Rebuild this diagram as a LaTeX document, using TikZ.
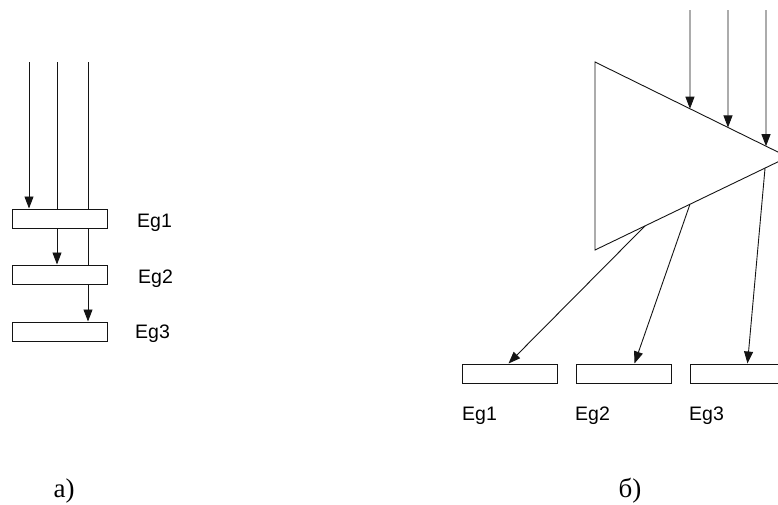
\documentclass[tikz,border=0pt]{standalone}
\usepackage{fontspec}
\setmainfont{Liberation Serif}
\newfontfamily\egfont{Liberation Sans}
\usetikzlibrary{arrows.meta,calc}
\definecolor{lineGrey}{RGB}{20,20,20}

\begin{document}
\begin{tikzpicture}[x=1pt,y=-1pt,
    bar/.style={draw=lineGrey, line width=1pt, fill=white, inner sep=0pt,
                minimum width=95pt, minimum height=19pt},
    wire/.style={lineGrey, line width=0.9pt},
    feed/.style={wire, -{Triangle[length=12pt,width=9pt]}},
    eg/.style={font=\egfont\fontsize{19.5}{20}\selectfont, inner sep=0pt, anchor=base west},
    tag/.style={font=\fontsize{27}{28}\selectfont, inner sep=0pt, anchor=base}]
  \useasboundingbox (0,0) rectangle (778,504);
  \clip (0,0) rectangle (778,504);

  % a) three levels in a row
  \coordinate (ina) at (29,62);
  \coordinate (inb) at (57,62);
  \coordinate (inc) at (88,62);
  \node[bar] (ea1) at (59.5,218.5) {};
  \node[bar] (ea2) at (59.5,274.5) {};
  \node[bar] (ea3) at (59.5,331.5) {};
  \draw[feed] (ina) -- (ina |- ea1.north);
  \draw[wire] (inb) -- (inb |- ea1.north);
  \draw[feed] (inb |- ea1.south) -- (inb |- ea2.north);
  \draw[wire] (inc) -- (inc |- ea1.north);
  \draw[wire] (inc |- ea1.south) -- (inc |- ea2.north);
  \draw[feed] (inc |- ea2.south) -- (inc |- ea3.north);
  \node[eg] (la1) at (137,227) {Eg1};
  \node[eg] (la2) at (138,283) {Eg2};
  \node[eg] (la3) at (135,338) {Eg3};
  \node[tag] (capa) at (64,497) {а)};

  % b) the prism splits the beam
  \coordinate (tl) at (595,62);
  \coordinate (bl) at (595,250);
  \coordinate (tip) at (788,157);
  \draw[wire] (tl) -- (tip) -- (bl) -- cycle;
  \coordinate (ra) at (690,10);
  \coordinate (rb) at (728,10);
  \coordinate (rc) at (766,10);
  \draw[feed] (ra) -- ($(tl)!0.492!(tip)$);
  \draw[feed] (rb) -- ($(tl)!0.689!(tip)$);
  \draw[feed] (rc) -- ($(tl)!0.886!(tip)$);
  \node[bar] (eb1) at (509.5,373.5) {};
  \node[bar] (eb2) at (623.5,373.5) {};
  \node[bar] (eb3) at (737.5,373.5) {};
  \draw[feed] ($(bl)!0.259!(tip)$) -- ([xshift=-1pt]eb1.north);
  \draw[feed] ($(bl)!0.492!(tip)$) -- ([xshift=11pt]eb2.north);
  \draw[feed] ($(bl)!0.881!(tip)$) -- ([xshift=10pt]eb3.north);
  \node[eg] (lb1) at (462,420) {Eg1};
  \node[eg] (lb2) at (575,420) {Eg2};
  \node[eg] (lb3) at (689,420) {Eg3};
  \node[tag] (capb) at (630,497) {б)};
\end{tikzpicture}
\end{document}
